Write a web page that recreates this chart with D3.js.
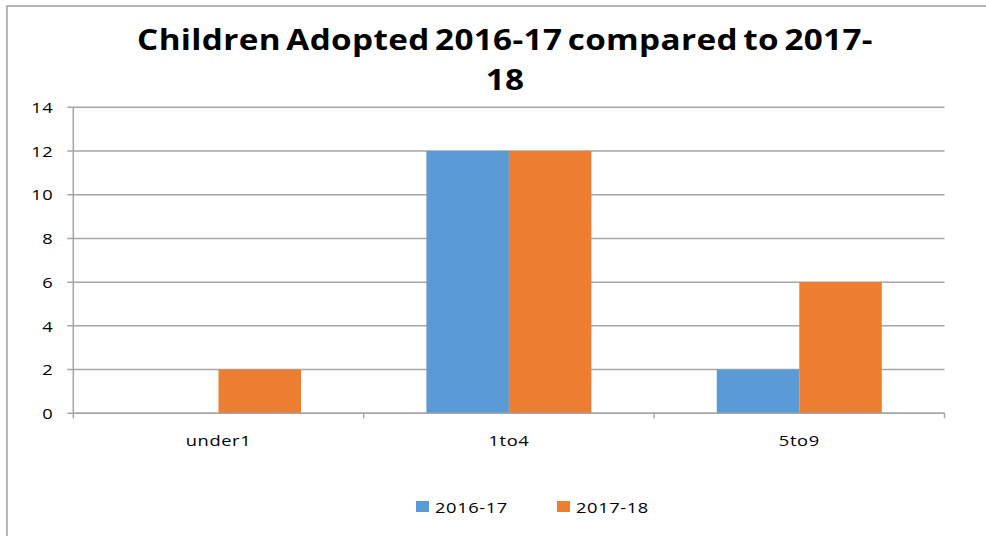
<!DOCTYPE html>
<html>
<head>
<meta charset="utf-8">
<script src="https://cdn.jsdelivr.net/npm/d3@7"></script>
<style>
  body { margin: 0; background: #fff; }
  text { font-family: "Open Sans", sans-serif; fill: #000; }
  .small { font-size: 15px; letter-spacing: 0.5px; }
</style>
</head>
<body>
<div id="chart"></div>
<script>
// data
var categories = ["under1", "1to4", "5to9"];
var seriesNames = ["2016-17", "2017-18"];
var values2016 = [0, 12, 2];
var values2017 = [2, 12, 6];
var yTicks = [0, 2, 4, 6, 8, 10, 12, 14];
var titleLines = ["Children Adopted 2016-17 compared to 2017-", "18"];
var colors = ["#5B9BD5", "#ED7D31"];

var width = 986, height = 536;
var margin = {top: 107.3, right: 41.5, bottom: 122.7, left: 73.3};
var plotW = width - margin.left - margin.right;
var plotH = height - margin.top - margin.bottom;
var stretch = 1.22; // the source font is wider than Open Sans

var svg = d3.select("#chart").append("svg")
    .attr("width", width).attr("height", height);

// outer frame (runs off the right and bottom edges)
svg.append("rect")
    .attr("x", 7).attr("y", 6)
    .attr("width", 1000).attr("height", 600)
    .attr("fill", "none").attr("stroke", "#a0a0a0").attr("stroke-width", 1.5);

// title - the original font is wide, so stretch horizontally to fit
var titleG = svg.append("g");
var title = titleG.append("text")
    .attr("text-anchor", "middle")
    .style("font-weight", "bold")
    .style("font-size", "28px")
    .style("letter-spacing", "0.3px")
    .style("word-spacing", "-3px");
title.selectAll("tspan")
    .data(titleLines)
    .enter().append("tspan")
    .attr("x", 0)
    .attr("y", (d, i) => 50 + i * 40)
    .text(d => d);
var firstLen = title.select("tspan").node().getComputedTextLength();
var sx = 736 / firstLen;
titleG.attr("transform", `translate(505,0) scale(${sx},1)`);

var g = svg.append("g")
    .attr("transform", `translate(${margin.left},${margin.top})`);

var x0 = d3.scaleBand().domain(categories).range([0, plotW]).padding(0);
var x1 = d3.scaleBand().domain(seriesNames).range([0, x0.bandwidth()])
    .paddingInner(0).paddingOuter(0.76);
var y = d3.scaleLinear().domain([0, 14]).range([plotH, 0]);

// gridlines
g.selectAll("line.grid")
    .data(yTicks)
    .enter().append("line")
    .attr("class", "grid")
    .attr("x1", -6).attr("x2", plotW)
    .attr("y1", d => y(d)).attr("y2", d => y(d))
    .attr("stroke", "#a6a6a6").attr("stroke-width", 1.5);

// y labels
g.selectAll("text.ylab")
    .data(yTicks)
    .enter().append("text")
    .attr("class", "ylab small")
    .attr("transform", d => `translate(-20,${y(d)}) scale(${stretch},1)`)
    .attr("dy", "0.38em")
    .attr("text-anchor", "end")
    .text(d => d);

// bars
var rows = categories.map((c, i) => ({cat: c, vals: [values2016[i], values2017[i]]}));
var groups = g.selectAll("g.cat")
    .data(rows)
    .enter().append("g")
    .attr("transform", d => `translate(${x0(d.cat)},0)`);
groups.selectAll("rect")
    .data(d => d.vals.map((v, j) => ({name: seriesNames[j], v: v, j: j})))
    .enter().append("rect")
    .attr("x", d => x1(d.name))
    .attr("width", x1.bandwidth())
    .attr("y", d => y(d.v))
    .attr("height", d => plotH - y(d.v))
    .attr("fill", d => colors[d.j]);

// y axis line
g.append("line")
    .attr("x1", 0).attr("x2", 0).attr("y1", 0).attr("y2", plotH)
    .attr("stroke", "#a6a6a6").attr("stroke-width", 1.5);

// x axis line + ticks between categories
g.append("line")
    .attr("x1", 0).attr("x2", plotW).attr("y1", plotH).attr("y2", plotH)
    .attr("stroke", "#a6a6a6").attr("stroke-width", 1.5);
var bounds = categories.map(c => x0(c)).concat([plotW]);
g.selectAll("line.xtick")
    .data(bounds)
    .enter().append("line")
    .attr("class", "xtick")
    .attr("x1", d => d).attr("x2", d => d)
    .attr("y1", plotH).attr("y2", plotH + 5)
    .attr("stroke", "#a6a6a6").attr("stroke-width", 1.5);

// category labels
g.selectAll("text.xlab")
    .data(categories)
    .enter().append("text")
    .attr("class", "xlab small")
    .attr("transform", d => `translate(${x0(d) + x0.bandwidth() / 2},${plotH + 33}) scale(${stretch},1)`)
    .attr("text-anchor", "middle")
    .text(d => d);

// legend
var legendX = [416, 557];
var legend = svg.selectAll("g.legend")
    .data(seriesNames)
    .enter().append("g")
    .attr("transform", (d, i) => `translate(${legendX[i]},501)`);
legend.append("rect")
    .attr("width", 13).attr("height", 11)
    .attr("fill", (d, i) => colors[i]);
legend.append("text")
    .attr("class", "small")
    .attr("transform", `translate(19,12) scale(${stretch},1)`)
    .text(d => d);
</script>
</body>
</html>
